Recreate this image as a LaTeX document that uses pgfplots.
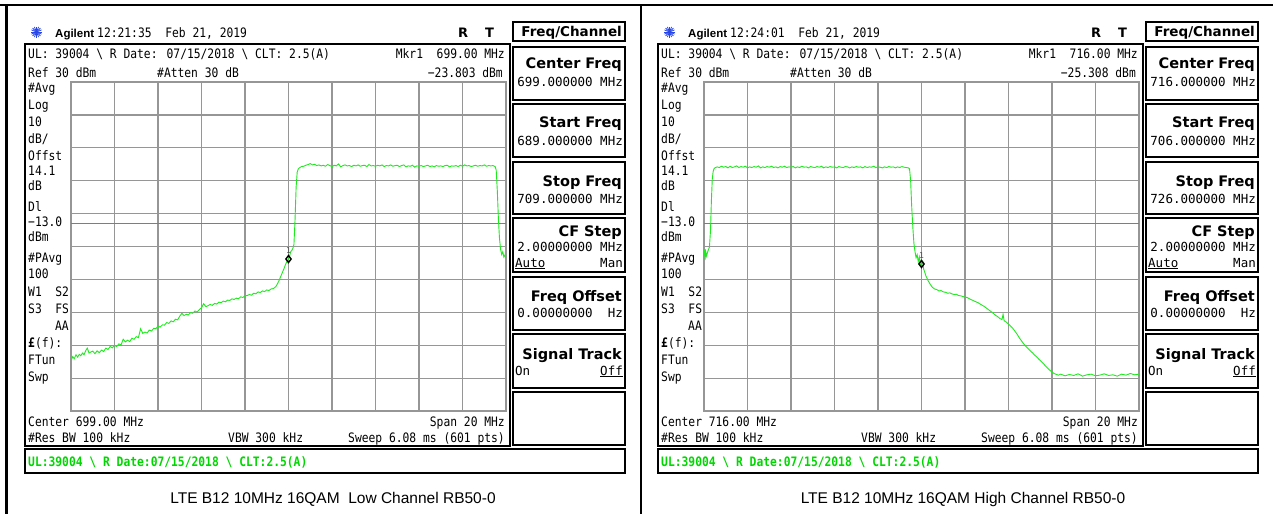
\documentclass[border=0pt]{standalone}
\usepackage{fontspec}
\usepackage{pgfplots}
\pgfplotsset{compat=1.18}
\newfontfamily\scr[FakeStretch=0.87]{DejaVu Sans Mono}
\newfontfamily\scrv{DejaVu Sans Mono}
\newfontfamily\dvs{DejaVu Sans}
\newfontfamily\lib{Liberation Sans}
\definecolor{trace}{RGB}{30,235,30}
\definecolor{scrgreen}{RGB}{0,215,0}
\definecolor{gridg}{RGB}{150,150,150}
\definecolor{agblue}{RGB}{40,70,230}
\newcommand\st{\scr\fontsize{13}{13}\selectfont}
\newcommand\sv{\scrv\fontsize{12.5}{13}\selectfont}
\newcommand\kt{\dvs\bfseries\fontsize{14.5}{15}\selectfont}
\newcommand\kf{\dvs\bfseries\fontsize{13.5}{14}\selectfont}
\newcommand\Tl[3]{\node[anchor=base west,inner sep=0pt] at (#1,-#2) {\st #3};}
\newcommand\Tr[3]{\node[anchor=base east,inner sep=0pt] at (#1,-#2) {\st #3};}
\newcommand\Vr[3]{\node[anchor=base east,inner sep=0pt] at (#1,-#2) {\sv #3};}
\newcommand\Vl[3]{\node[anchor=base west,inner sep=0pt] at (#1,-#2) {\sv #3};}
\newcommand\Kr[3]{\node[anchor=base east,inner sep=0pt] at (#1,-#2) {\kt #3};}
\newcommand\panel[8]{%
  \foreach \a in {0,22.5,...,157.5}
    \draw[agblue,line width=0.8pt] ({36.5+5.5*cos(\a)},{-32-5.5*sin(\a)}) -- ({36.5-5.5*cos(\a)},{-32+5.5*sin(\a)});
  \node[anchor=base west,inner sep=0pt] at (55,-37) {\lib\bfseries\fontsize{11.5}{12}\selectfont Agilent};
  \Tl{97}{37}{#1}
  \node[anchor=base west,inner sep=0pt] at (458,-37) {\dvs\bfseries\fontsize{13}{13}\selectfont R};
  \node[anchor=base west,inner sep=0pt] at (485,-37) {\dvs\bfseries\fontsize{13}{13}\selectfont T};
  \draw[line width=1.5pt] (513,-22) rectangle (625,-41);
  \node[anchor=base east,inner sep=0pt] at (622,-36) {\kf Freq/Channel};
  \draw[line width=1.5pt] (25,-44) rectangle (510,-446);
  \Tl{28}{58.5}{UL: 39004 \textbackslash{} R Date: 07/15/2018 \textbackslash{} CLT: 2.5(A)}
  \Tr{505}{58.5}{Mkr1\ \ #2 MHz}
  \Tl{28}{77.5}{Ref 30 dBm}
  \Tl{157}{77.5}{\#Atten 30 dB}
  \Tr{503}{77.5}{−#3 dBm}
  \Tl{28}{92.5}{\#Avg}
  \Tl{28}{109.5}{Log}
  \Tl{28}{126.5}{10}
  \Tl{28}{143.5}{dB/}
  \Tl{28}{160.5}{Offst}
  \Tl{28}{175.5}{14.1}
  \Tl{28}{190.5}{dB}
  \Tl{28}{211.5}{Dl}
  \Tl{28}{226.5}{−13.0}
  \Tl{28}{241.5}{dBm}
  \Tl{28}{262.5}{\#PAvg}
  \Tl{28}{278.5}{100}
  \Tl{28}{296.5}{W1\ \ S2}
  \Tl{28}{313.5}{S3\ \ FS}
  \Tr{69}{330.5}{AA}
  \Tl{28}{347.5}{{\bfseries £}(f):}
  \Tl{28}{364.5}{FTun}
  \Tl{28}{381.5}{Swp}
  \Tl{28}{426.5}{Center #4.00 MHz}
  \Tr{505}{426.5}{Span 20 MHz}
  \Tl{28}{442.5}{\#Res BW 100 kHz}
  \Tl{228}{442.5}{VBW 300 kHz}
  \Tr{505}{442.5}{Sweep 6.08 ms (601 pts)}
  % softkeys
  \foreach \t/\b in {47/100,104/157,162/214,218/272,277/330,334/388,392/445}
    \draw[line width=1.6pt] (513,-\t) rectangle (625,-\b);
  \Kr{622}{68}{Center Freq}
  \Vr{623}{86}{#4.000000 MHz}
  \Kr{622}{127}{Start Freq}
  \Vr{623}{145}{#5.000000 MHz}
  \Kr{622}{186}{Stop Freq}
  \Vr{623}{203}{#6.000000 MHz}
  \Kr{622}{236}{CF Step}
  \Vr{623}{251}{2.00000000 MHz}
  \Vl{515}{267}{\underline{Auto}}
  \Vr{623}{267}{Man}
  \Kr{622}{301}{Freq Offset}
  \Vr{623}{317}{0.00000000\ \ Hz}
  \Kr{622}{359}{Signal Track}
  \Vl{515}{375}{On}
  \Vr{623}{375}{\underline{Off}}
  % status bar
  \draw[line width=1.5pt] (25,-449) rectangle (625,-473);
  \node[anchor=base west,inner sep=0pt,text=scrgreen] at (28,-466.5) {\st\bfseries UL:39004 \textbackslash{} R Date:07/15/2018 \textbackslash{} CLT:2.5(A)};
  \node[anchor=base,inner sep=0pt] at (#8,-503) {\lib\fontsize{15.5}{16}\selectfont #7};
}
\pgfplotsset{spec/.style={scale only axis, width=435pt, height=329pt, anchor=north west,
  ymin=-70, ymax=30, ytick={-70,-60,...,30}, grid=major,
  major grid style={draw=gridg, line width=1.2pt},
  axis line style={draw=gridg, line width=1.2pt},
  xticklabels={}, yticklabels={}, tick style={draw=none},
  axis background/.style={fill=white}}}
\begin{document}
\begin{tikzpicture}[x=1pt,y=1pt]
\useasboundingbox (0,0) rectangle (1273,-514);
\draw[line width=2.5pt] (0,-5) -- (1273,-5);
\draw[line width=2.5pt] (6.5,-5) -- (6.5,-514);
\draw[line width=2pt] (641,-5) -- (641,-514);
\panel{12:21:35\ \ Feb 21, 2019}{699.00}{23.803}{699}{689}{709}{LTE B12 10MHz 16QAM\ \ Low Channel RB50-0}{333}
\begin{scope}[xshift=633pt]
\panel{12:24:01\ \ Feb 21, 2019}{716.00}{25.308}{716}{706}{726}{LTE B12 10MHz 16QAM High Channel RB50-0}{330}
\end{scope}
\begin{axis}[spec, at={(71pt,-82pt)}, xmin=689, xmax=709, xtick={689,691,...,709}]
\addplot[scrgreen, line width=1pt] coordinates {(689,-13) (709,-13)};
\addplot[trace, line width=0.9pt] table {
689.00 -54.6
689.08 -53.5
689.15 -54.1
689.23 -52.9
689.30 -53.6
689.38 -52.8
689.45 -53.2
689.53 -52.4
689.60 -52.9
689.68 -51.6
689.75 -50.9
689.83 -52.4
689.90 -52.1
690.00 -51.8
690.10 -52.6
690.20 -51.7
690.30 -52.3
690.40 -51.5
690.50 -51.9
690.60 -50.9
690.70 -51.3
690.80 -50.4
690.90 -50.8
691.00 -50.1
691.10 -50.4
691.20 -49.6
691.30 -49.9
691.40 -48.2
691.50 -49.0
691.60 -48.5
691.70 -48.9
691.80 -47.9
691.90 -48.2
692.00 -47.4
692.10 -47.7
692.20 -45.0
692.30 -46.4
692.40 -46.0
692.50 -46.3
692.60 -45.4
692.70 -45.7
692.80 -44.9
692.90 -45.0
693.00 -44.2
693.10 -44.5
693.20 -43.8
693.30 -43.9
693.40 -43.1
693.50 -43.4
693.60 -42.6
693.70 -42.9
693.80 -42.1
693.90 -42.3
694.00 -41.2
694.10 -40.3
694.20 -41.0
694.30 -40.6
694.40 -40.8
694.50 -40.1
694.60 -40.3
694.70 -39.6
694.80 -39.9
694.90 -39.2
695.00 -38.6
695.10 -37.4
695.20 -38.3
695.30 -38.0
695.40 -37.6
695.50 -37.9
695.60 -37.3
695.70 -37.5
695.80 -36.9
695.90 -37.1
696.00 -36.6
696.10 -36.8
696.20 -36.3
696.30 -36.4
696.40 -35.9
696.50 -36.1
696.60 -35.7
696.70 -35.9
696.80 -35.3
696.90 -35.5
697.00 -35.0
697.10 -34.9
697.20 -34.6
697.30 -34.8
697.40 -34.2
697.50 -34.4
697.60 -33.8
697.70 -34.0
697.80 -33.5
697.90 -33.7
698.00 -33.2
698.10 -33.4
698.20 -32.9
698.30 -32.8
698.40 -32.3
698.45 -31.9
698.50 -31.2
698.55 -30.6
698.60 -29.8
698.65 -29.0
698.70 -28.2
698.75 -27.4
698.80 -26.6
698.85 -25.7
698.90 -24.9
698.95 -24.3
699.00 -23.8
699.05 -23.0
699.10 -21.6
699.15 -21.2
699.20 -20.6
699.25 -19.4
699.30 -12.0
699.35 -2.0
699.40 2.6
699.45 3.6
699.50 3.9
699.60 4.3
699.70 4.4
699.80 4.7
699.90 4.9
700.00 5.2
700.10 4.8
700.20 5.0
700.30 4.6
700.40 4.8
700.5 4.5
700.6 4.7
700.7 4.4
700.8 4.9
700.9 4.6
701.0 4.3
701.1 4.7
701.2 4.5
701.3 5.1
701.4 4.2
701.5 4.6
701.6 4.8
701.7 4.5
701.8 4.6
701.9 4.3
702.0 4.7
702.1 4.5
702.2 4.8
702.3 4.4
702.4 4.6
702.5 4.7
702.6 4.3
702.7 4.9
702.8 4.5
702.9 4.6
703.0 4.4
703.1 4.7
703.2 4.5
703.3 4.8
703.4 4.3
703.5 4.6
703.6 4.5
703.7 4.8
703.8 4.4
703.9 4.6
704.0 4.7
704.1 4.3
704.2 4.6
704.3 4.8
704.4 4.2
704.5 4.5
704.6 4.4
704.7 4.7
704.8 4.1
704.9 4.5
705.0 4.4
705.1 4.6
705.2 4.3
705.3 4.5
705.4 4.7
705.5 4.3
705.6 4.5
705.7 4.2
705.8 4.6
705.9 4.4
706.0 4.5
706.1 4.3
706.2 4.6
706.3 4.7
706.4 4.2
706.5 4.5
706.6 4.4
706.7 4.6
706.8 4.3
706.9 4.7
707.0 4.4
707.1 4.8
707.2 4.5
707.3 4.6
707.4 4.3
707.5 4.5
707.6 4.7
707.7 4.4
707.8 4.6
707.9 4.5
708.0 4.8
708.1 4.4
708.2 4.6
708.3 4.5
708.4 4.6
708.5 4.3
708.55 3.2
708.60 -3.0
708.65 -11.5
708.70 -17.5
708.75 -20.8
708.80 -22.4
708.85 -21.6
708.90 -23.2
708.95 -22.6
709.00 -23.5
};
\addplot[only marks, mark=diamond, mark size=3.5pt, mark options={draw=black, line width=1.4pt, fill=none},
  nodes near coords=1, every node near coord/.style={font=\scrv\fontsize{8}{8}\selectfont, text=black!70, anchor=south, yshift=1pt}]
  coordinates {(699,-23.803)};
\end{axis}
\begin{axis}[spec, at={(704pt,-82pt)}, xmin=706, xmax=726, xtick={706,708,...,726}]
\addplot[scrgreen, line width=1pt] coordinates {(706,-13) (726,-13)};
\addplot[trace, line width=0.9pt] table {
706.00 -22.6
706.03 -20.8
706.05 -24.0
706.08 -21.6
706.12 -22.9
706.16 -21.8
706.20 -21.0
706.25 -20.2
706.30 -15.0
706.34 -6.0
706.38 0.5
706.42 2.8
706.46 3.6
706.50 3.9
706.60 4.2
706.70 4.0
706.80 4.4
706.90 4.1
707.00 4.3
707.1 3.9
707.2 4.4
707.3 4.0
707.4 4.2
707.5 4.5
707.6 4.0
707.7 4.3
707.8 4.1
707.9 4.4
708.0 3.9
708.1 4.2
708.2 4.0
708.3 4.3
708.4 4.1
708.5 4.5
708.6 3.9
708.7 4.2
708.8 4.0
708.9 4.3
709.0 4.1
709.1 4.4
709.2 4.0
709.3 4.2
709.4 3.9
709.5 4.3
709.6 4.1
709.7 4.4
709.8 4.0
709.9 4.2
710.0 4.1
710.1 4.3
710.2 3.9
710.3 4.2
710.4 4.0
710.5 4.4
710.6 4.1
710.7 4.2
710.8 3.9
710.9 4.3
711.0 4.1
711.1 4.0
711.2 4.3
711.3 4.1
711.4 4.4
711.5 3.9
711.6 4.2
711.7 4.0
711.8 4.3
711.9 4.1
712.0 4.2
712.1 3.9
712.2 4.3
712.3 4.1
712.4 4.0
712.5 4.3
712.6 4.2
712.7 3.9
712.8 4.2
712.9 4.0
713.0 4.3
713.1 4.1
713.2 4.2
713.3 3.9
713.4 4.3
713.5 4.0
713.6 4.2
713.7 4.1
713.8 4.4
713.9 4.0
714.0 4.2
714.1 4.1
714.2 3.9
714.3 4.2
714.4 4.0
714.5 4.3
714.6 4.1
714.7 4.2
714.8 3.9
714.9 4.2
715.0 4.0
715.1 4.3
715.2 4.1
715.3 4.0
715.4 3.9
715.45 3.6
715.50 0.0
715.55 -8.0
715.60 -14.0
715.65 -19.0
715.70 -21.5
715.75 -23.4
715.80 -22.5
715.85 -24.6
715.90 -23.2
715.95 -25.8
716.00 -25.3
716.05 -24.6
716.10 -26.9
716.15 -27.8
716.20 -28.9
716.25 -29.6
716.30 -30.4
716.35 -30.9
716.40 -31.5
716.50 -32.4
716.60 -32.9
716.70 -33.1
716.80 -33.5
716.90 -33.4
717.00 -33.8
717.10 -33.9
717.20 -34.2
717.30 -34.1
717.40 -34.4
717.50 -34.6
717.60 -34.5
717.70 -34.9
717.80 -35.0
717.90 -35.2
718.00 -35.4
718.10 -35.5
718.20 -35.9
718.30 -36.2
718.40 -36.5
718.50 -36.8
718.60 -37.1
718.70 -37.5
718.80 -37.9
718.90 -38.3
719.00 -38.8
719.10 -39.3
719.20 -39.8
719.30 -40.3
719.40 -40.9
719.50 -41.3
719.60 -41.9
719.70 -42.2
719.75 -40.6
719.80 -42.6
719.90 -43.0
720.00 -43.6
720.10 -44.2
720.20 -44.9
720.30 -45.8
720.40 -46.7
720.50 -47.8
720.60 -48.7
720.70 -49.6
720.80 -50.4
720.90 -51.0
721.00 -51.7
721.10 -52.3
721.20 -53.0
721.30 -53.6
721.40 -54.3
721.50 -54.9
721.60 -55.6
721.70 -56.3
721.80 -57.0
721.90 -57.6
722.00 -58.2
722.10 -58.6
722.20 -58.9
722.30 -59.1
722.4 -58.8
722.6 -59.3
722.8 -58.9
723.0 -59.2
723.2 -58.7
723.4 -59.4
723.6 -59.0
723.8 -58.8
724.0 -59.3
724.2 -59.1
724.4 -58.7
724.6 -59.2
724.8 -59.0
725.0 -59.4
725.2 -58.8
725.4 -59.1
725.6 -58.6
725.8 -59.0
726.0 -58.8
};
\addplot[only marks, mark=diamond, mark size=3.5pt, mark options={draw=black, line width=1.4pt, fill=none},
  nodes near coords=1, every node near coord/.style={font=\scrv\fontsize{8}{8}\selectfont, text=black!70, anchor=south, yshift=1pt}]
  coordinates {(716,-25.308)};
\end{axis}
\end{tikzpicture}
\end{document}
